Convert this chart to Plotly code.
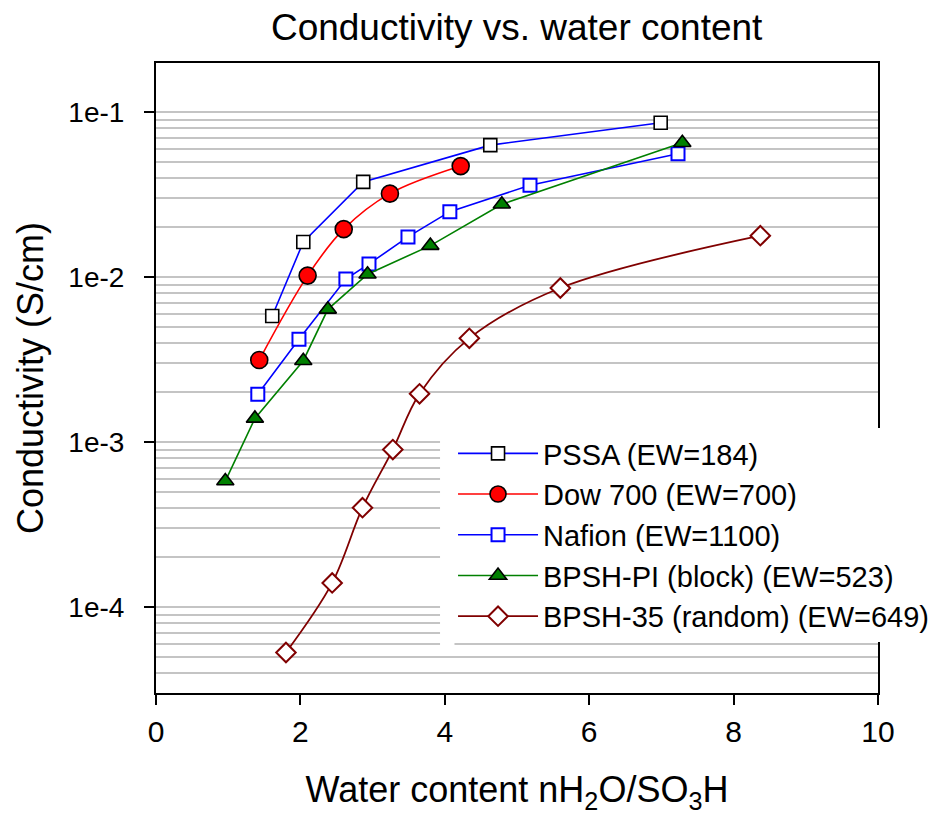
import plotly.graph_objects as go

# Water content (nH2O/SO3H) and proton conductivity (S/cm) for each membrane
pssa_x = [1.61, 2.04, 2.87, 4.63, 6.99]
pssa_y = [0.0058, 0.0163, 0.0377, 0.063, 0.086]

dow_x = [1.43, 2.10, 2.60, 3.24, 4.22]
dow_y = [0.00314, 0.0102, 0.0195, 0.032, 0.047]

nafion_x = [1.41, 1.98, 2.63, 2.95, 3.49, 4.07, 5.18, 7.23]
nafion_y = [0.00195, 0.00419, 0.00973, 0.012, 0.0175, 0.0249, 0.036, 0.0558]

bpsh_pi_x = [0.96, 1.37, 2.04, 2.38, 2.93, 3.80, 4.79, 7.29]
bpsh_pi_y = [0.00058, 0.00139, 0.00311, 0.00637, 0.0104, 0.0155, 0.0276, 0.0651]

bpsh35_x = [1.80, 2.44, 2.86, 3.28, 3.65, 4.34, 5.60, 8.37]
bpsh35_y = [0.000053, 0.00014, 0.00040, 0.00090, 0.00196, 0.00425, 0.00858, 0.0178]

y_major = [1e-4, 1e-3, 1e-2, 1e-1]
y_major_text = ["1e-4", "1e-3", "1e-2", "1e-1"]
x_ticks = [0, 2, 4, 6, 8, 10]

FONT = "Arial, Liberation Sans, sans-serif"

fig = go.Figure()

fig.add_trace(go.Scatter(
    x=pssa_x, y=pssa_y, name="PSSA (EW=184)", mode="lines+markers",
    line=dict(color="#0000ff", width=1.6),
    marker=dict(symbol="square", size=13, color="white",
                line=dict(color="black", width=1.6)),
))
fig.add_trace(go.Scatter(
    x=dow_x, y=dow_y, name="Dow 700 (EW=700)", mode="lines+markers",
    line=dict(color="#ff0000", width=1.6, shape="spline", smoothing=1.0),
    marker=dict(symbol="circle", size=17, color="#ff0000",
                line=dict(color="black", width=1.6)),
))
fig.add_trace(go.Scatter(
    x=nafion_x, y=nafion_y, name="Nafion (EW=1100)", mode="lines+markers",
    line=dict(color="#0000ff", width=1.6),
    marker=dict(symbol="square", size=13, color="white",
                line=dict(color="#0000ff", width=2)),
))
fig.add_trace(go.Scatter(
    x=bpsh_pi_x, y=bpsh_pi_y, name="BPSH-PI (block) (EW=523)", mode="lines+markers",
    line=dict(color="#008000", width=1.6),
    marker=dict(symbol="triangle-up", size=15, color="#008000",
                line=dict(color="black", width=1.6)),
))
fig.add_trace(go.Scatter(
    x=bpsh35_x, y=bpsh35_y, name="BPSH-35 (random) (EW=649)", mode="lines+markers",
    line=dict(color="#800000", width=1.8, shape="spline", smoothing=1.0),
    marker=dict(symbol="diamond", size=15, color="white",
                line=dict(color="#800000", width=2)),
))

# minor grid positions: 2..9 within each decade
minor_vals = [m * 10.0 ** e for e in range(-5, 0) for m in range(2, 10)]

fig.update_layout(
    width=948, height=815,
    margin=dict(l=156, r=70, t=63, b=122),
    paper_bgcolor="white", plot_bgcolor="white",
    font=dict(family=FONT, color="black"),
    title=dict(text="Conductivity vs. water content", x=0.545, xanchor="center",
               y=0.967, yanchor="middle", font=dict(size=37, family=FONT)),
    showlegend=True,
    legend=dict(x=0.4114, y=0.4206, xanchor="left", yanchor="top",
                bgcolor="white", borderwidth=0, font=dict(size=29, family=FONT),
                tracegroupgap=0, itemwidth=80),
    # blank strip just left of the legend box (no data passes through it)
    shapes=[dict(type="rect", xref="paper", yref="paper",
                 x0=0.3934, x1=0.4134, y0=0.075, y1=0.4206,
                 fillcolor="white", line=dict(width=0), layer="above")],
)

fig.update_xaxes(
    range=[0, 10], tickvals=x_ticks, ticks="outside", ticklen=10, tickwidth=1.5,
    tickcolor="black", showline=True, linecolor="black", linewidth=2, mirror=True,
    showgrid=False, zeroline=False, tickfont=dict(size=30, family=FONT),
    ticklabelstandoff=1,
    title=dict(text="Water content nH<sub>2</sub>O/SO<sub>3</sub>H",
               font=dict(size=36, family=FONT), standoff=30),
)
fig.update_yaxes(
    type="log", range=[-4.521, -0.703], tickvals=y_major, ticktext=y_major_text,
    ticks="outside", ticklen=10, tickwidth=1.5, tickcolor="black",
    showline=True, linecolor="black", linewidth=2, mirror=True,
    showgrid=True, gridcolor="#c4c4c4", gridwidth=2, zeroline=False,
    tickfont=dict(size=28, family=FONT), ticklabelstandoff=14,
    minor=dict(tickvals=minor_vals, showgrid=True, gridcolor="#c4c4c4",
               gridwidth=2, ticks=""),
    title=dict(text="Conductivity (S/cm)", font=dict(size=36, family=FONT), standoff=14),
)

fig.write_html("out.html")
